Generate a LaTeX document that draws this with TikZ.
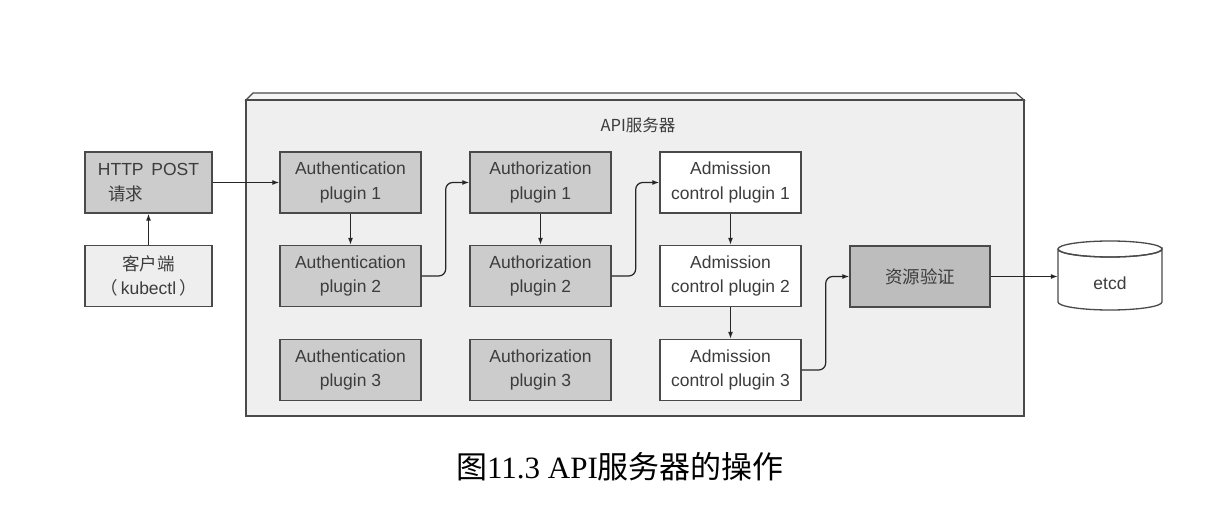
\documentclass[tikz,border=0pt]{standalone}
\usepackage{fontspec}
\setmainfont{Liberation Sans}
\newfontfamily\cjk{Noto Sans CJK SC}
\newfontfamily\capserif{Liberation Serif}
\usetikzlibrary{arrows.meta}
\definecolor{linec}{HTML}{4A4A4A}
\definecolor{txt}{HTML}{3C3C3C}
\definecolor{plug}{HTML}{CCCCCC}
\definecolor{res}{HTML}{BDBDBD}
\definecolor{cont}{HTML}{EFEFEF}
\definecolor{light}{HTML}{EEEEEE}
\tikzset{
  box/.style={draw=linec, line width=1.4pt, minimum width=141pt, minimum height=61pt,
    align=center, text=txt, font=\fontsize{17.5}{24.5}\selectfont, inner sep=0pt},
  graybox/.style={box, fill=plug},
  whitebox/.style={box, fill=white},
  arr/.style={draw=black!85, line width=1.2pt, -{Latex[length=7pt,width=5pt]}},
}
\begin{document}
\begin{tikzpicture}[x=1pt,y=-1pt]
\useasboundingbox[fill=white] (0,0) rectangle (1229,513);
% container
\fill[fill=cont!60, draw=linec, line width=1.2pt] (246,100) -- (253,93) -- (1016,93) -- (1024,100) -- cycle;
\node[draw=linec, fill=cont, line width=1.4pt, minimum width=778pt, minimum height=316pt, inner sep=0pt] (api) at (635,258) {};
\draw[linec, line width=2.2pt] (1024,100) -- (1024,416);
\node[text=txt, font=\cjk\fontsize{16.5}{20}\selectfont] (apilabel) at (638,125) {API服务器};
% left boxes
\node[graybox, minimum width=127pt] (http) at (148.5,182.5) {HTTP\, POST\\{\cjk 请求}\hspace*{46pt}};
\node[box, fill=light, minimum width=127pt] (client) at (148.5,276) {{\cjk 客户端}\\{\cjk （}\,kubectl\,{\cjk ）}};
% authentication
\node[graybox] (auth1) at (350.5,182.5) {Authentication\\plugin 1};
\node[graybox] (auth2) at (350.5,276) {Authentication\\plugin 2};
\node[graybox] (auth3) at (350.5,370) {Authentication\\plugin 3};
% authorization
\node[graybox] (authz1) at (540.5,182.5) {Authorization\\plugin 1};
\node[graybox] (authz2) at (540.5,276) {Authorization\\plugin 2};
\node[graybox] (authz3) at (540.5,370) {Authorization\\plugin 3};
% admission
\node[whitebox] (adm1) at (730.5,182.5) {Admission\\control plugin 1};
\node[whitebox] (adm2) at (730.5,276) {Admission\\control plugin 2};
\node[whitebox] (adm3) at (730.5,370) {Admission\\control plugin 3};
% resource validation
\node[box, fill=res, minimum width=140pt] (valid) at (920,276.5) {\cjk 资源验证};
% etcd
\draw[linec, line width=1.3pt, fill=white] (1058,249) -- (1058,302) arc[start angle=180, end angle=0, x radius=52, y radius=8] -- (1162,249) arc[start angle=0, end angle=180, x radius=52, y radius=8];
\draw[linec, line width=1.3pt] (1110,249) ellipse[x radius=52, y radius=8];
\node[text=txt, font=\fontsize{17.5}{20}\selectfont, minimum width=104pt, minimum height=60pt, inner sep=0pt] (etcd) at (1110,283) {etcd};
% connectors
\draw[arr] (http.east) -- (auth1.west);
\draw[arr] (client.north) -- (http.south);
\draw[arr] (auth1.south) -- (auth2.north);
\draw[arr] (authz1.south) -- (authz2.north);
\draw[arr] (adm1.south) -- (adm2.north);
\draw[arr] (adm2.south) -- (adm3.north);
\draw[arr, rounded corners=7pt] (auth2.east) -- ([xshift=24pt]auth2.east) |- (authz1.west);
\draw[arr, rounded corners=7pt] (authz2.east) -- ([xshift=24pt]authz2.east) |- (adm1.west);
\draw[arr, rounded corners=7pt] (adm3.east) -- ([xshift=24pt]adm3.east) |- (valid.west);
\draw[arr] (valid.east) -- (etcd.west |- valid.east);
% caption
\node[font=\fontsize{31}{34}\selectfont] (caption) at (620,467) {{\cjk 图}{\capserif 11.3 API}{\cjk 服务器的操作}};
\end{tikzpicture}
\end{document}
